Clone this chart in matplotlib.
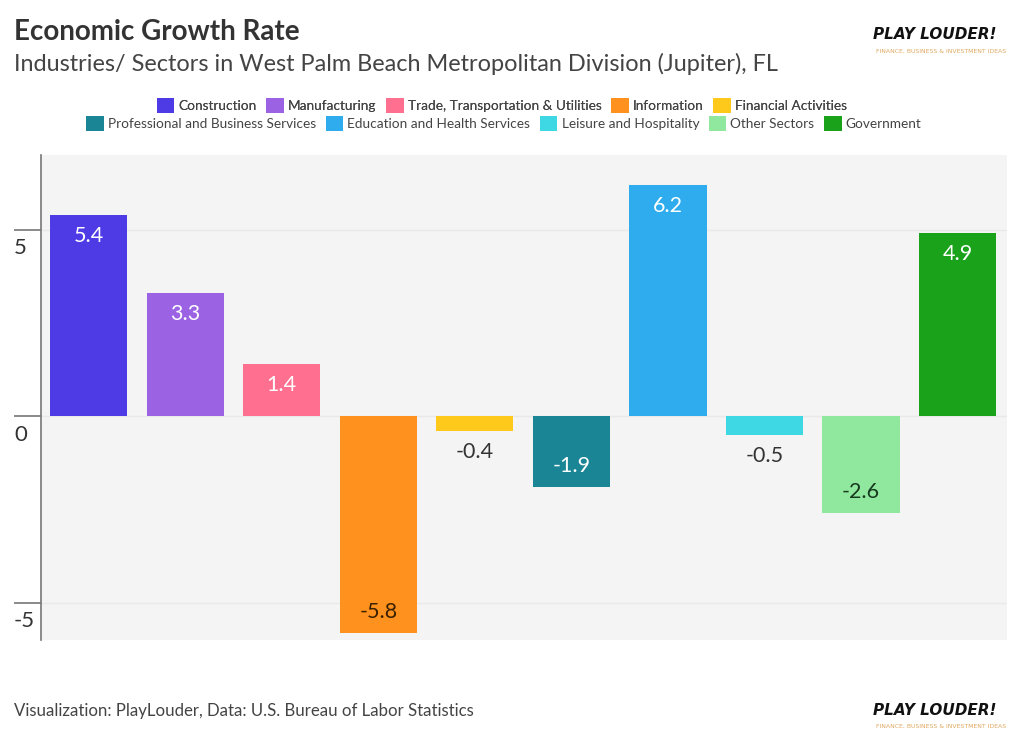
import numpy as np
import matplotlib.pyplot as plt
from matplotlib.transforms import blended_transform_factory, offset_copy

sectors = ["Construction", "Manufacturing", "Trade, Transportation & Utilities",
           "Information", "Financial Activities", "Professional and Business Services",
           "Education and Health Services", "Leisure and Hospitality",
           "Other Sectors", "Government"]
growth = [5.4, 3.3, 1.4, -5.8, -0.4, -1.9, 6.2, -0.5, -2.6, 4.9]
colors = ["#4f3be6", "#9b63e3", "#ff6f8f", "#ff921e", "#ffc91c",
          "#1a8595", "#2eaced", "#3dd8e3", "#90e89f", "#1aa21a"]
# label colour / placement: inside (near end) or outside
label_colors = ["white", "white", "white", "#3a2000", "#333333",
                "white", "white", "#333333", "#173a1f", "white"]
label_inside = [True, True, True, True, False, True, True, False, True, True]
yticks = [-5, 0, 5]

plt.rcParams['font.family'] = ['Lato', 'DejaVu Sans']

fig = plt.figure(figsize=(10.24, 7.4), dpi=100)
ax = fig.add_axes([0.040, 0.135, 0.943, 0.6555])
ax.set_facecolor("#f4f4f4")

x = np.arange(len(growth))
ax.bar(x, growth, width=0.8, color=colors, zorder=3)
ax.set_xlim(-0.493, 9.507)
ax.set_ylim(-6, 7)

for yv in yticks:
    ax.axhline(yv, color="#e9e9e9", lw=1, zorder=1)

for s in ["top", "right", "bottom"]:
    ax.spines[s].set_visible(False)
ax.spines["left"].set_color("#777777")
ax.spines["left"].set_linewidth(1.2)
ax.set_xticks([])
ax.set_yticks(yticks)
ax.tick_params(axis="y", length=19.5, width=1.2, color="#777777", labelleft=False)

trans = blended_transform_factory(ax.transAxes, ax.transData)
for yv in yticks:
    ax.text(-0.028, yv, str(yv), transform=offset_copy(trans, fig=fig, y=-6, units="points"),
            ha="left", va="top", fontsize=16, color="#333333")

for xi, v, lc, ins in zip(x, growth, label_colors, label_inside):
    txt = f"{v:.1f}"
    if v >= 0:
        tr = offset_copy(ax.transData, fig=fig, y=-8, units="points")
        ax.text(xi, v, txt, transform=tr, ha="center", va="top", fontsize=15.5, color=lc, zorder=4)
    elif ins:
        tr = offset_copy(ax.transData, fig=fig, y=8, units="points")
        ax.text(xi, v, txt, transform=tr, ha="center", va="bottom", fontsize=15.5, color=lc, zorder=4)
    else:
        tr = offset_copy(ax.transData, fig=fig, y=-8, units="points")
        ax.text(xi, v, txt, transform=tr, ha="center", va="top", fontsize=15.5, color=lc, zorder=4)

# legend, two rows
def make_handles(idx):
    return [plt.Rectangle((0, 0), 1, 1, facecolor=colors[i], edgecolor="none") for i in idx]

leg1 = fig.legend(make_handles(range(5)), sectors[:5], loc="center", bbox_to_anchor=(0.49, 0.857),
                  ncol=5, frameon=False, fontsize=9.8, handlelength=1.3, handleheight=1.3,
                  handletextpad=0.3, columnspacing=0.7, labelcolor="#444444")
leg2 = fig.legend(make_handles(range(5, 10)), sectors[5:], loc="center", bbox_to_anchor=(0.492, 0.833),
                  ncol=5, frameon=False, fontsize=9.8, handlelength=1.3, handleheight=1.3,
                  handletextpad=0.3, columnspacing=0.7, labelcolor="#444444")
fig.add_artist(leg1)

fig.text(0.0137, 0.946, "Economic Growth Rate", fontsize=20, fontweight="bold", color="#333333", va="baseline")
fig.text(0.0137, 0.904, "Industries/ Sectors in West Palm Beach Metropolitan Division (Jupiter), FL",
         fontsize=16.9, color="#444444", va="baseline")
fig.text(0.0137, 0.033, "Visualization: PlayLouder, Data: U.S. Bureau of Labor Statistics",
         fontsize=12.1, color="#444444", va="baseline")

for yb in [0.947, 0.034]:
    fig.text(0.853, yb, "PLAY LOUDER!", fontsize=11, fontweight="bold", fontstyle="italic",
             family=["Liberation Sans Narrow", "DejaVu Sans"], color="#111111", va="baseline")
    fig.text(0.855, yb - 0.018, "FINANCE, BUSINESS & INVESTMENT IDEAS", fontsize=4.4,
             family=["Liberation Sans Narrow", "DejaVu Sans"], color="#e0a860", va="baseline")

fig.savefig("out.png", dpi=100, facecolor="white")
